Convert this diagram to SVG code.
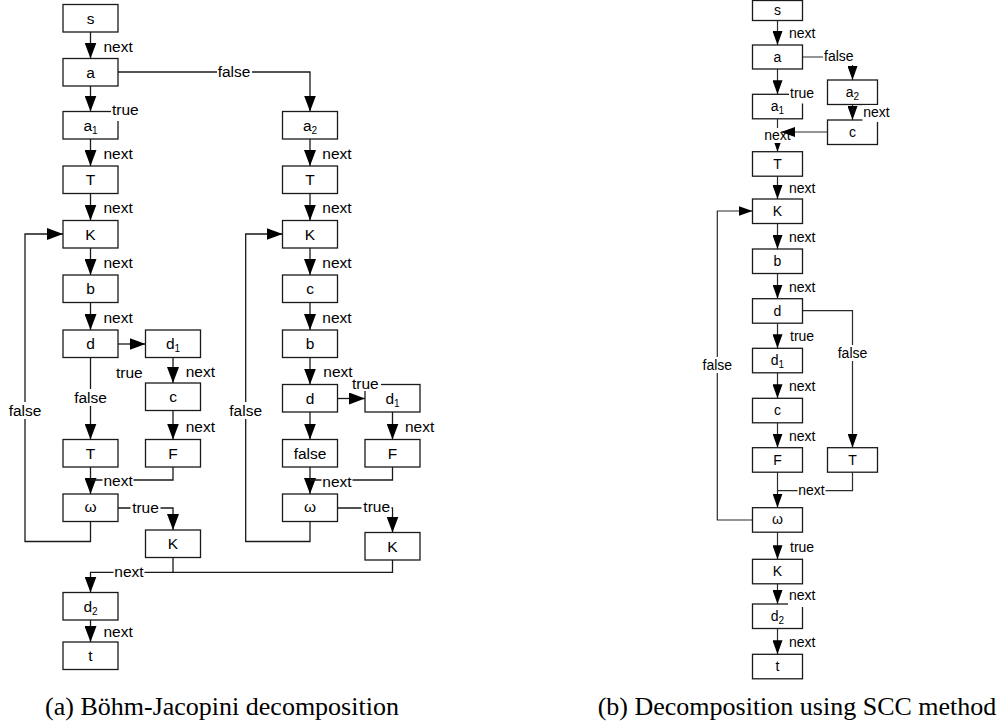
<svg xmlns="http://www.w3.org/2000/svg" width="1007" height="724" viewBox="0 0 1007 724">
  <style>
    .box { fill: #fff; stroke: #1a1a1a; stroke-width: 1.3; }
    .ln { fill: none; stroke: #1a1a1a; stroke-width: 1.3; }
    .lnR { fill: none; stroke: #2a2a2a; stroke-width: 1.2; }
    .bg { fill: #fff; }
    .tL { font-family: "Liberation Sans", Arial, sans-serif; font-size: 15.5px; fill: #000; }
    .tR { font-family: "Liberation Sans", Arial, sans-serif; font-size: 14px; fill: #000; }
    .c { text-anchor: middle; }
    .sub { font-size: 10px; }
    .cap { font-family: "Liberation Serif", "Times New Roman", serif; font-size: 26px; fill: #000; text-anchor: middle; }
  </style>
  <defs>
    <marker id="ahL" markerUnits="userSpaceOnUse" markerWidth="16" markerHeight="12" refX="16" refY="6" orient="auto">
      <path d="M0,0 L16,6 L0,12 z" fill="#000"/>
    </marker>
    <marker id="ahR" markerUnits="userSpaceOnUse" markerWidth="14" markerHeight="10" refX="14" refY="5" orient="auto">
      <path d="M0,0 L14,5 L0,10 z" fill="#000"/>
    </marker>
  </defs>

  <rect width="1007" height="724" fill="#fff"/>

  <!-- connectors: (a) Böhm-Jacopini -->
  <g id="connectors-a" class="ln">
    <path d="M90.5 32 V58.5" marker-end="url(#ahL)"/>
    <path d="M118 72 H310 V111.5" marker-end="url(#ahL)"/>
    <path d="M90.5 86 V111.5" marker-end="url(#ahL)"/>
    <path d="M90.5 139 V166" marker-end="url(#ahL)"/>
    <path d="M90.5 193.5 V220.5" marker-end="url(#ahL)"/>
    <path d="M90.5 248 V275" marker-end="url(#ahL)"/>
    <path d="M90.5 302.5 V330" marker-end="url(#ahL)"/>
    <path d="M118 344 H145.5" marker-end="url(#ahL)"/>
    <path d="M90.5 357.5 V439.5" marker-end="url(#ahL)"/>
    <path d="M173 357.5 V383" marker-end="url(#ahL)"/>
    <path d="M173 410.5 V439.5" marker-end="url(#ahL)"/>
    <path d="M90.5 467 V494" marker-end="url(#ahL)"/>
    <path d="M173 467 V480 H90.5"/>
    <path d="M90.5 521.5 V541.5 H25 V234 H63" marker-end="url(#ahL)"/>
    <path d="M118 508 H173 V530" marker-end="url(#ahL)"/>
    <path d="M310 139 V166" marker-end="url(#ahL)"/>
    <path d="M310 193.5 V220.5" marker-end="url(#ahL)"/>
    <path d="M310 248 V275" marker-end="url(#ahL)"/>
    <path d="M310 302.5 V330" marker-end="url(#ahL)"/>
    <path d="M310 357.5 V384.5" marker-end="url(#ahL)"/>
    <path d="M337.5 398.5 H365" marker-end="url(#ahL)"/>
    <path d="M310 412 V439.5" marker-end="url(#ahL)"/>
    <path d="M392.5 412 V439.5" marker-end="url(#ahL)"/>
    <path d="M310 467 V494" marker-end="url(#ahL)"/>
    <path d="M392.5 467 V480 H310"/>
    <path d="M310 521.5 V541.5 H245.7 V234 H282.5" marker-end="url(#ahL)"/>
    <path d="M337.5 508 H392.5 V532.5" marker-end="url(#ahL)"/>
    <path d="M392.5 560 V572.3 H173"/>
    <path d="M173 557.5 V572.3 H90.5 V592.5" marker-end="url(#ahL)"/>
    <path d="M90.5 620 V642" marker-end="url(#ahL)"/>
  </g>

  <!-- connectors: (b) SCC -->
  <g id="connectors-b" class="lnR">
    <path d="M777.5 20.5 V45" marker-end="url(#ahR)"/>
    <path d="M802.5 57 H852.5 V80" marker-end="url(#ahR)"/>
    <path d="M777.5 69 V94.3" marker-end="url(#ahR)"/>
    <path d="M852.5 104.5 V120" marker-end="url(#ahR)"/>
    <path d="M777.5 118.8 V151.7" marker-end="url(#ahR)"/>
    <path d="M777.5 176.2 V199" marker-end="url(#ahR)"/>
    <path d="M777.5 223.5 V249" marker-end="url(#ahR)"/>
    <path d="M777.5 273.5 V298.7" marker-end="url(#ahR)"/>
    <path d="M777.5 323.2 V348.3" marker-end="url(#ahR)"/>
    <path d="M777.5 372.8 V398.3" marker-end="url(#ahR)"/>
    <path d="M777.5 422.8 V447.7" marker-end="url(#ahR)"/>
    <path d="M802.5 310.7 H852.5 V447.7" marker-end="url(#ahR)"/>
    <path d="M777.5 472.2 V507.7" marker-end="url(#ahR)"/>
    <path d="M852.5 472.2 V490.7 H777.5"/>
    <path d="M752.5 520 H717.3 V211 H752.5" marker-end="url(#ahR)"/>
    <path d="M777.5 532.2 V559.3" marker-end="url(#ahR)"/>
    <path d="M777.5 583.8 V604" marker-end="url(#ahR)"/>
    <path d="M777.5 628.5 V654.3" marker-end="url(#ahR)"/>
  </g>

  <!-- nodes: (a) -->
  <g class="tL">
    <g id="a-s"><rect class="box" x="63" y="4.5" width="55" height="27.5"/><text class="c" x="90.5" y="23.5">s</text></g>
    <g id="a-a"><rect class="box" x="63" y="58.5" width="55" height="27.5"/><text class="c" x="90.5" y="77.5">a</text></g>
    <g id="a-a1"><rect class="box" x="63" y="111.5" width="55" height="27.5"/><text class="c" x="90.5" y="130.5">a<tspan class="sub" dy="3">1</tspan></text></g>
    <g id="a-T1"><rect class="box" x="63" y="166" width="55" height="27.5"/><text class="c" x="90.5" y="185">T</text></g>
    <g id="a-K1"><rect class="box" x="63" y="220.5" width="55" height="27.5"/><text class="c" x="90.5" y="239.5">K</text></g>
    <g id="a-b1"><rect class="box" x="63" y="275" width="55" height="27.5"/><text class="c" x="90.5" y="294">b</text></g>
    <g id="a-d1"><rect class="box" x="63" y="330" width="55" height="27.5"/><text class="c" x="90.5" y="349">d</text></g>
    <g id="a-dd1"><rect class="box" x="145.5" y="330" width="55" height="27.5"/><text class="c" x="173" y="349">d<tspan class="sub" dy="3">1</tspan></text></g>
    <g id="a-c1"><rect class="box" x="145.5" y="383" width="55" height="27.5"/><text class="c" x="173" y="402">c</text></g>
    <g id="a-T2"><rect class="box" x="63" y="439.5" width="55" height="27.5"/><text class="c" x="90.5" y="458.5">T</text></g>
    <g id="a-F1"><rect class="box" x="145.5" y="439.5" width="55" height="27.5"/><text class="c" x="173" y="458.5">F</text></g>
    <g id="a-w1"><rect class="box" x="63" y="494" width="55" height="27.5"/><text class="c" x="90.5" y="512">ω</text></g>
    <g id="a-K2"><rect class="box" x="145.5" y="530" width="55" height="27.5"/><text class="c" x="173" y="549">K</text></g>
    <g id="a-a2"><rect class="box" x="282.5" y="111.5" width="55" height="27.5"/><text class="c" x="310" y="130.5">a<tspan class="sub" dy="3">2</tspan></text></g>
    <g id="a-T3"><rect class="box" x="282.5" y="166" width="55" height="27.5"/><text class="c" x="310" y="185">T</text></g>
    <g id="a-K3"><rect class="box" x="282.5" y="220.5" width="55" height="27.5"/><text class="c" x="310" y="239.5">K</text></g>
    <g id="a-c2"><rect class="box" x="282.5" y="275" width="55" height="27.5"/><text class="c" x="310" y="294">c</text></g>
    <g id="a-b2"><rect class="box" x="282.5" y="330" width="55" height="27.5"/><text class="c" x="310" y="349">b</text></g>
    <g id="a-d2"><rect class="box" x="282.5" y="384.5" width="55" height="27.5"/><text class="c" x="310" y="403.5">d</text></g>
    <g id="a-dd1b"><rect class="box" x="365" y="384.5" width="55" height="27.5"/><text class="c" x="392.5" y="403.5">d<tspan class="sub" dy="3">1</tspan></text></g>
    <g id="a-false"><rect class="box" x="282.5" y="439.5" width="55" height="27.5"/><text class="c" x="310" y="458.5">false</text></g>
    <g id="a-F2"><rect class="box" x="365" y="439.5" width="55" height="27.5"/><text class="c" x="392.5" y="458.5">F</text></g>
    <g id="a-w2"><rect class="box" x="282.5" y="494" width="55" height="27.5"/><text class="c" x="310" y="512">ω</text></g>
    <g id="a-K4"><rect class="box" x="365" y="532.5" width="55" height="27.5"/><text class="c" x="392.5" y="551.5">K</text></g>
    <g id="a-dd2"><rect class="box" x="63" y="592.5" width="55" height="27.5"/><text class="c" x="90.5" y="611.5">d<tspan class="sub" dy="3">2</tspan></text></g>
    <g id="a-t"><rect class="box" x="63" y="642" width="55" height="27.5"/><text class="c" x="90.5" y="661">t</text></g>
  </g>

  <!-- nodes: (b) -->
  <g class="tR">
    <g id="b-s"><rect class="box" x="752.5" y="0.5" width="50" height="20"/><text class="c" x="777.5" y="15">s</text></g>
    <g id="b-a"><rect class="box" x="752.5" y="45" width="50" height="24"/><text class="c" x="777.5" y="62">a</text></g>
    <g id="b-a1"><rect class="box" x="752.5" y="94.3" width="50" height="24.5"/><text class="c" x="777.5" y="111.3">a<tspan class="sub" dy="3">1</tspan></text></g>
    <g id="b-a2"><rect class="box" x="827.5" y="80" width="50" height="24.5"/><text class="c" x="852.5" y="97">a<tspan class="sub" dy="3">2</tspan></text></g>
    <g id="b-c1"><rect class="box" x="827.5" y="120" width="50" height="24.5"/><text class="c" x="852.5" y="137">c</text></g>
    <g id="b-T1"><rect class="box" x="752.5" y="151.7" width="50" height="24.5"/><text class="c" x="777.5" y="168.7">T</text></g>
    <g id="b-K1"><rect class="box" x="752.5" y="199" width="50" height="24.5"/><text class="c" x="777.5" y="216">K</text></g>
    <g id="b-b"><rect class="box" x="752.5" y="249" width="50" height="24.5"/><text class="c" x="777.5" y="266">b</text></g>
    <g id="b-d"><rect class="box" x="752.5" y="298.7" width="50" height="24.5"/><text class="c" x="777.5" y="315.7">d</text></g>
    <g id="b-d1"><rect class="box" x="752.5" y="348.3" width="50" height="24.5"/><text class="c" x="777.5" y="365.3">d<tspan class="sub" dy="3">1</tspan></text></g>
    <g id="b-c2"><rect class="box" x="752.5" y="398.3" width="50" height="24.5"/><text class="c" x="777.5" y="415.3">c</text></g>
    <g id="b-F"><rect class="box" x="752.5" y="447.7" width="50" height="24.5"/><text class="c" x="777.5" y="464.7">F</text></g>
    <g id="b-T2"><rect class="box" x="827.5" y="447.7" width="50" height="24.5"/><text class="c" x="852.5" y="464.7">T</text></g>
    <g id="b-w"><rect class="box" x="752.5" y="507.7" width="50" height="24.5"/><text class="c" x="777.5" y="524">ω</text></g>
    <g id="b-K2"><rect class="box" x="752.5" y="559.3" width="50" height="24.5"/><text class="c" x="777.5" y="576.3">K</text></g>
    <g id="b-d2"><rect class="box" x="752.5" y="604" width="50" height="24.5"/><text class="c" x="777.5" y="621">d<tspan class="sub" dy="3">2</tspan></text></g>
    <g id="b-t"><rect class="box" x="752.5" y="654.3" width="50" height="24.5"/><text class="c" x="777.5" y="671.3">t</text></g>
  </g>

  <!-- edge labels: (a) -->
  <g id="labels-a" class="tL">
    <rect class="bg" x="217" y="63" width="35" height="17"/>
    <rect class="bg" x="111" y="101" width="30" height="20"/>
    <rect class="bg" x="73" y="389" width="35" height="17"/>
    <rect class="bg" x="102.5" y="473" width="31" height="15"/>
    <rect class="bg" x="7" y="402" width="36" height="17"/>
    <rect class="bg" x="130.5" y="500" width="30" height="16"/>
    <rect class="bg" x="351" y="375" width="30" height="16"/>
    <rect class="bg" x="321.5" y="474" width="31" height="15"/>
    <rect class="bg" x="228" y="402" width="36" height="17"/>
    <rect class="bg" x="361.5" y="499" width="30" height="16"/>
    <rect class="bg" x="113.5" y="564" width="31" height="15"/>
    <text x="103.5" y="51.7">next</text>
    <text class="c" x="234" y="77">false</text>
    <text x="112" y="115">true</text>
    <text x="103.5" y="159">next</text>
    <text x="103.5" y="213">next</text>
    <text x="103.5" y="268">next</text>
    <text x="103.5" y="323">next</text>
    <text x="116" y="378">true</text>
    <text class="c" x="90.5" y="403">false</text>
    <text x="185.7" y="376.7">next</text>
    <text x="185.7" y="431.7">next</text>
    <text x="103.5" y="486">next</text>
    <text class="c" x="25" y="416">false</text>
    <text class="c" x="145.5" y="513">true</text>
    <text x="322.3" y="159">next</text>
    <text x="322.3" y="213">next</text>
    <text x="322.3" y="268">next</text>
    <text x="322.3" y="323">next</text>
    <text x="323.3" y="377">next</text>
    <text x="352" y="389">true</text>
    <text x="405" y="431.7">next</text>
    <text x="322.3" y="487">next</text>
    <text class="c" x="245.7" y="416">false</text>
    <text class="c" x="376.7" y="512">true</text>
    <text class="c" x="129" y="577">next</text>
    <text x="103.5" y="637">next</text>
  </g>

  <!-- edge labels: (b) -->
  <g id="labels-b" class="tR">
    <rect class="bg" x="823" y="49" width="32" height="16"/>
    <rect class="bg" x="789" y="85" width="26" height="18.5"/>
    <rect class="bg" x="862.5" y="105" width="28" height="17"/>
    <rect class="bg" x="763" y="128" width="22" height="15"/>
    <rect class="bg" x="837" y="345" width="31" height="16"/>
    <rect class="bg" x="797.5" y="483" width="28" height="15"/>
    <rect class="bg" x="702" y="357" width="31" height="16"/>
    <rect class="bg" x="788" y="587" width="28" height="20"/>
    <text x="789" y="38">next</text>
    <text x="824" y="61.4">false</text>
    <text x="790" y="98">true</text>
    <text x="863.3" y="117.4">next</text>
    <text class="c" x="777.5" y="139.7">next</text>
    <text x="789" y="193">next</text>
    <text x="789" y="242">next</text>
    <text x="789" y="292">next</text>
    <text x="790" y="341.4">true</text>
    <text x="789" y="390.7">next</text>
    <text x="789" y="440.7">next</text>
    <text class="c" x="852.5" y="358">false</text>
    <text x="798.3" y="495.4">next</text>
    <text class="c" x="717.3" y="369.7">false</text>
    <text x="790" y="552">true</text>
    <text x="789" y="599.7">next</text>
    <text x="789" y="647">next</text>
  </g>

  <!-- merge arrow from c into the a1→T edge, drawn over its label -->
  <g id="connector-c-merge" class="lnR">
    <path d="M827.5 132 H781" marker-end="url(#ahR)"/>
  </g>

  <!-- captions -->
  <text class="cap" x="222" y="715">(a) Böhm-Jacopini decomposition</text>
  <text class="cap" x="797" y="715">(b) Decomposition using SCC method</text>
</svg>
